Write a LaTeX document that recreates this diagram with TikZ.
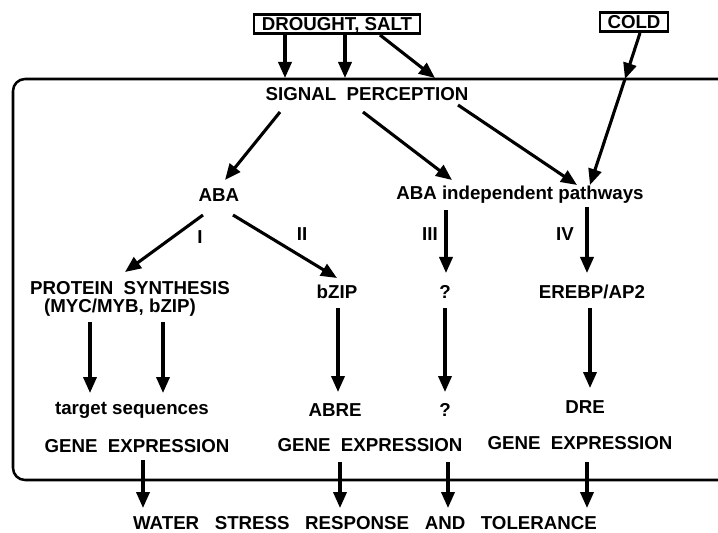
\documentclass[tikz,border=0pt]{standalone}
\usepackage{fontspec}
\setmainfont{Liberation Sans}
\usetikzlibrary{arrows.meta,calc}

\begin{document}
\begin{tikzpicture}[
  x=0.025cm, y=-0.025cm,
  lbl/.style={font=\bfseries\fontsize{13.3}{15}\selectfont, inner sep=1pt},
  stressbox/.style={lbl, draw, line width=1.8pt, inner xsep=5.5pt, inner ysep=2pt,
    text height=9.6pt, text depth=0pt},
  arr/.style={-{Triangle[length=4mm,width=3.3mm]}, line width=2.2pt},
  frame/.style={line width=1.8pt, rounded corners=3mm}
]
\useasboundingbox (0,0) rectangle (718,533);

% cell boundary
\draw[frame] (730,79) -- (13,79) -- (13,480) -- (730,480);

% stresses
\node[stressbox] (drought) at (337,24) {DROUGHT, SALT};
\node[stressbox] (cold) at (634,22) {COLD};
\coordinate (coldin) at (625,79);

\node[lbl] (sig) at (367,94) {SIGNAL~~PERCEPTION};
\node[lbl] (aba) at (219,195) {ABA};
\node[lbl] (indep) at (520,195) {ABA independent pathways};

\node[lbl] (lI) at (200,237) {I};
\node[lbl] (lII) at (302,234) {II};
\node[lbl] (lIII) at (430,234) {III};
\node[lbl] (lIV) at (565,234) {IV};

\node[lbl] (prot) at (130,288) {PROTEIN~~SYNTHESIS};
\node[lbl] (myc) at (120,308) {(MYC/MYB, bZIP)};
\node[lbl] (bzip) at (337,292) {bZIP};
\node[lbl] (q1) at (445,292) {?};
\node[lbl] (erebp) at (592,292) {EREBP/AP2};

\node[lbl] (tgt) at (132,410) {target sequences};
\node[lbl] (abre) at (335,410) {ABRE};
\node[lbl] (q2) at (445,410) {?};
\node[lbl] (dre) at (585,407) {DRE};

\node[lbl] (ge1) at (137,446) {GENE~~EXPRESSION};
\node[lbl] (ge2) at (370,445) {GENE~~EXPRESSION};
\node[lbl] (ge3) at (580,443) {GENE~~EXPRESSION};

\node[lbl] (resp) at (365,523) {WATER~~~STRESS~~~RESPONSE~~~AND~~~TOLERANCE};

% into the cell
\draw[arr] ($(drought)+(-52,11)$) -- ($(drought)+(-52,54)$);
\draw[arr] ($(drought)+(8,11)$) -- ($(drought)+(8,54)$);
\draw[arr] ($(drought)+(43,11)$) -- ($(drought)+(98,54)$);
\draw[arr] ($(cold)+(6,11)$) -- (coldin);
\draw[arr] (coldin) -- ($(indep)+(70,-10)$);

% perception
\draw[arr] ($(sig)+(-87,18)$) -- ($(aba)+(6,-15)$);
\draw[arr] ($(sig)+(-4,18)$) -- ($(indep)+(-68,-15)$);
\draw[arr] ($(sig)+(91,11)$) -- ($(indep)+(57,-10)$);

% pathways I-IV
\draw[arr] ($(aba)+(-16,20)$) -- ($(prot)+(-5,-16)$);
\draw[arr] ($(aba)+(14,20)$) -- ($(bzip)+(0,-14)$);
\draw[arr] ($(indep)+(-74,15)$) -- ($(q1)+(1,-19)$);
\draw[arr] ($(indep)+(67,12)$) -- ($(erebp)+(-5,-19)$);

\draw[arr] ($(myc)+(-30,14)$) -- ($(tgt)+(-42,-17)$);
\draw[arr] ($(myc)+(43,14)$) -- ($(tgt)+(31,-17)$);
\draw[arr] ($(bzip)+(1,16)$) -- ($(abre)+(3,-18)$);
\draw[arr] ($(q1)+(0,16)$) -- ($(q2)+(0,-18)$);
\draw[arr] ($(erebp)+(-2,16)$) -- ($(dre)+(5,-19)$);

% out of the cell
\draw[arr] ($(ge1)+(6,14)$) -- ($(resp)+(-222,-15)$);
\draw[arr] ($(ge2)+(-30,17)$) -- ($(resp)+(-25,-15)$);
\draw[arr] ($(ge2)+(78,17)$) -- ($(resp)+(83,-15)$);
\draw[arr] ($(ge3)+(7,19)$) -- ($(resp)+(222,-15)$);

\end{tikzpicture}
\end{document}
